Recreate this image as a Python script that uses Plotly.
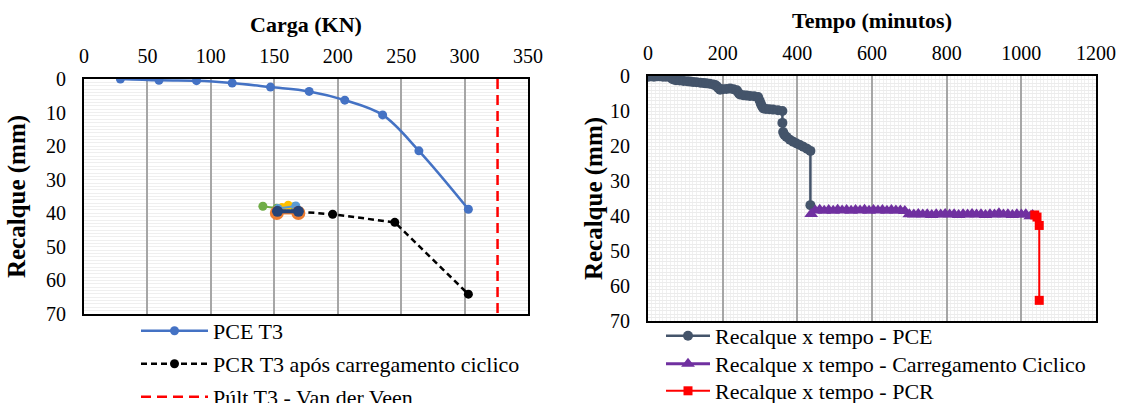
import plotly.graph_objects as go

# ---------------- Left chart: Carga x Recalque ----------------
pce_load = [28.7, 59.1, 88.7, 116.8, 147.0, 177.5, 205.6, 235.4, 264.0, 303.0]
pce_settle = [0.0, 0.4, 0.5, 1.2, 2.4, 3.7, 6.3, 10.7, 21.4, 38.8]

pcr_load = [169.0, 196.0, 245.0, 303.0]
pcr_settle = [39.5, 40.3, 42.7, 64.1]

pult_load = [326.0, 326.0]
pult_settle = [0.0, 70.0]

# cyclic loading loops (not listed in the visible legend)
cyc_green_load = [141.0, 152.0, 166.0]
cyc_green_settle = [37.9, 38.5, 38.0]
cyc_yellow_load = [156.0, 161.0]
cyc_yellow_settle = [38.3, 37.6]
cyc_lblue_load = [153.0, 167.0]
cyc_lblue_settle = [38.6, 37.8]
cyc_orange_load = [152.0, 169.0]
cyc_orange_settle = [39.9, 39.9]
cyc_dblue_load = [152.5, 169.0]
cyc_dblue_settle = [39.4, 39.4]

# ---------------- Right chart: Tempo x Recalque ----------------
pce_t = [0, 5, 10, 16, 24, 32, 40, 48, 59, 63, 68, 75, 85, 95, 105, 113, 121, 130, 140,
         148, 156, 165, 174, 180, 184, 188, 193, 200, 210, 220, 229, 238, 242, 246, 255,
         264, 273, 284, 295, 299, 302, 305, 309, 316, 325, 335, 348, 360, 360, 362, 365,
         371, 380, 389, 398, 407, 416, 426, 435, 435]
pce_v = [0.2, 0.1, 0.1, 0.2, 0.1, 0.1, 0.2, 0.2, 0.3, 0.7, 1.0, 1.2, 1.3, 1.4, 1.5, 1.6,
         1.7, 1.8, 1.9, 2.0, 2.1, 2.2, 2.4, 2.6, 2.9, 3.4, 3.9, 3.8, 3.7, 3.6, 3.8, 4.1,
         4.8, 5.3, 5.5, 5.6, 5.7, 5.8, 6.0, 7.0, 7.9, 8.6, 9.3, 9.4, 9.5, 9.6, 9.8, 10.0,
         13.4, 16.0, 16.8, 17.4, 18.2, 18.8, 19.3, 19.7, 20.2, 20.8, 21.4, 36.9]

cyc_t = [437, 448, 460, 472, 484, 496, 508, 520, 532, 544, 556, 568, 580, 592, 604,
         616, 628, 640, 652, 664, 676, 688, 700, 712, 724, 736, 748, 760, 772, 784,
         796, 808, 820, 832, 844, 856, 868, 880, 892, 904, 916, 928, 940, 952, 964,
         976, 988, 1000, 1012, 1024, 1030]
cyc_v = [39.4, 38.4, 38.2, 38.5, 38.3, 38.5, 38.2, 38.4, 38.3, 38.5, 38.3, 38.4, 38.2,
         38.5, 38.3, 38.4, 38.3, 38.5, 38.3, 38.4, 38.4, 38.6, 39.5, 39.6, 39.4, 39.6,
         39.5, 39.7, 39.5, 39.6, 39.4, 39.6, 39.5, 39.7, 39.5, 39.6, 39.4, 39.6, 39.5,
         39.7, 39.5, 39.6, 39.2, 39.6, 39.5, 39.7, 39.5, 39.6, 39.5, 40.1, 39.7]

pcr_t = [1036, 1042, 1048, 1048]
pcr_v = [39.7, 40.3, 42.7, 64.1]

x_ticks_left = [0, 50, 100, 150, 200, 250, 300, 350]
x_ticks_right = [0, 200, 400, 600, 800, 1000, 1200]
y_ticks = [0, 10, 20, 30, 40, 50, 60, 70]

W, H = 1121, 403
SERIF = "Liberation Serif"


def px(v):
    return v / W


def py(v):
    return 1 - v / H


fig = go.Figure()

# left
fig.add_trace(go.Scatter(x=pce_load, y=pce_settle, name="PCE T3", mode="lines+markers",
                         line=dict(color="#4472C4", width=2.5, shape="spline"),
                         marker=dict(size=9, color="#4472C4"), xaxis="x", yaxis="y",
                         legend="legend"))
fig.add_trace(go.Scatter(x=cyc_green_load, y=cyc_green_settle, mode="lines+markers",
                         line=dict(color="#70AD47", width=2), marker=dict(size=9, color="#70AD47"),
                         showlegend=False, xaxis="x", yaxis="y"))
fig.add_trace(go.Scatter(x=cyc_yellow_load, y=cyc_yellow_settle, mode="lines+markers",
                         line=dict(color="#FFC000", width=2), marker=dict(size=9, color="#FFC000"),
                         showlegend=False, xaxis="x", yaxis="y"))
fig.add_trace(go.Scatter(x=cyc_lblue_load, y=cyc_lblue_settle, mode="lines+markers",
                         line=dict(color="#5B9BD5", width=2), marker=dict(size=9, color="#5B9BD5"),
                         showlegend=False, xaxis="x", yaxis="y"))
fig.add_trace(go.Scatter(x=pcr_load, y=pcr_settle, name="PCR T3 após carregamento ciclico",
                         mode="lines+markers",
                         line=dict(color="black", width=2.5, dash="6px,4px"),
                         marker=dict(size=9, color="black"), xaxis="x", yaxis="y",
                         legend="legend2"))
fig.add_trace(go.Scatter(x=cyc_orange_load, y=cyc_orange_settle, mode="lines+markers",
                         line=dict(color="#ED7D31", width=3), marker=dict(size=14, color="#ED7D31"),
                         showlegend=False, xaxis="x", yaxis="y"))
fig.add_trace(go.Scatter(x=cyc_dblue_load, y=cyc_dblue_settle, mode="lines+markers",
                         line=dict(color="#264478", width=4), marker=dict(size=11, color="#264478"),
                         showlegend=False, xaxis="x", yaxis="y"))
fig.add_trace(go.Scatter(x=pult_load, y=pult_settle, name="Púlt T3 - Van der Veen", mode="lines",
                         line=dict(color="#FF0000", width=2.5, dash="10px,6px"),
                         xaxis="x", yaxis="y", legend="legend3"))

# right
fig.add_trace(go.Scatter(x=pce_t, y=pce_v, name="Recalque x tempo - PCE", mode="lines+markers",
                         line=dict(color="#44546A", width=2.5), marker=dict(size=10, color="#44546A"),
                         xaxis="x2", yaxis="y2", legend="legend4"))
fig.add_trace(go.Scatter(x=cyc_t, y=cyc_v, name="Recalque x tempo - Carregamento Ciclico",
                         mode="lines+markers",
                         line=dict(color="#7030A0", width=3),
                         marker=dict(size=12, color="#7030A0", symbol="triangle-up"),
                         xaxis="x2", yaxis="y2", legend="legend5"))
fig.add_trace(go.Scatter(x=pcr_t, y=pcr_v, name="Recalque x tempo - PCR", mode="lines+markers",
                         line=dict(color="#FF0000", width=2),
                         marker=dict(size=9, color="#FF0000", symbol="square"),
                         xaxis="x2", yaxis="y2", legend="legend6"))

tickfont = dict(family=SERIF, size=20, color="black")
titlefont = dict(family=SERIF, size=22, color="black", weight="bold")
ytitlefont = dict(family=SERIF, size=25, color="black", weight="bold")

common_x = dict(side="top", ticks="", showline=True, linecolor="black", linewidth=2, mirror=True,
                showgrid=True, gridcolor="#a6a6a6", gridwidth=1.5, zeroline=False,
                tickfont=tickfont, automargin=False, ticklabelstandoff=6)
common_y = dict(ticks="", showline=True, linecolor="black", linewidth=2, mirror=True,
                showgrid=False, zeroline=False, tickfont=tickfont, range=[70, 0],
                tickvals=y_ticks, ticklabelstandoff=12, automargin=False)

fig.update_layout(
    width=W, height=H, margin=dict(l=0, r=0, t=0, b=0, autoexpand=False),
    paper_bgcolor="white", plot_bgcolor="white",
    font=dict(family=SERIF, color="black"),
    xaxis=dict(domain=[px(84), px(528)], anchor="y", range=[0, 350], tickvals=x_ticks_left,
               title=dict(text="Carga (KN)", font=titlefont, standoff=6), **common_x),
    yaxis=dict(domain=[py(314), py(79)], anchor="x",
               minor=dict(dtick=1, showgrid=True, gridcolor="#efefef", gridwidth=1),
               title=dict(text="Recalque (mm)", font=ytitlefont, standoff=13), **common_y),
    xaxis2=dict(domain=[px(648), px(1096)], anchor="y2", range=[0, 1200], tickvals=x_ticks_right,
                minor=dict(dtick=10, showgrid=True, gridcolor="#f0f0f0", gridwidth=1),
                title=dict(text="Tempo (minutos)", font=titlefont, standoff=7), **common_x),
    yaxis2=dict(domain=[py(321), py(76)], anchor="x2",
                minor=dict(dtick=1, showgrid=True, gridcolor="#ececec", gridwidth=1),
                title=dict(text="Recalque (mm)", font=ytitlefont, standoff=0), **common_y),
)

legfont = dict(family=SERIF, size=22, color="black")
leg_left_x = px(136)
leg_right_x = px(661)
fig.update_layout(
    legend=dict(x=leg_left_x, y=py(331), xanchor="left", yanchor="middle", font=legfont,
                itemwidth=67, bgcolor="rgba(0,0,0,0)"),
    legend2=dict(x=leg_left_x, y=py(364), xanchor="left", yanchor="middle", font=legfont,
                 itemwidth=67, bgcolor="rgba(0,0,0,0)"),
    legend3=dict(x=leg_left_x, y=py(397), xanchor="left", yanchor="middle", font=legfont,
                 itemwidth=67, bgcolor="rgba(0,0,0,0)"),
    legend4=dict(x=leg_right_x, y=py(336), xanchor="left", yanchor="middle", font=legfont,
                 itemwidth=44, bgcolor="rgba(0,0,0,0)"),
    legend5=dict(x=leg_right_x, y=py(364), xanchor="left", yanchor="middle", font=legfont,
                 itemwidth=44, bgcolor="rgba(0,0,0,0)"),
    legend6=dict(x=leg_right_x, y=py(391), xanchor="left", yanchor="middle", font=legfont,
                 itemwidth=44, bgcolor="rgba(0,0,0,0)"),
)

fig.write_html("out.html")
